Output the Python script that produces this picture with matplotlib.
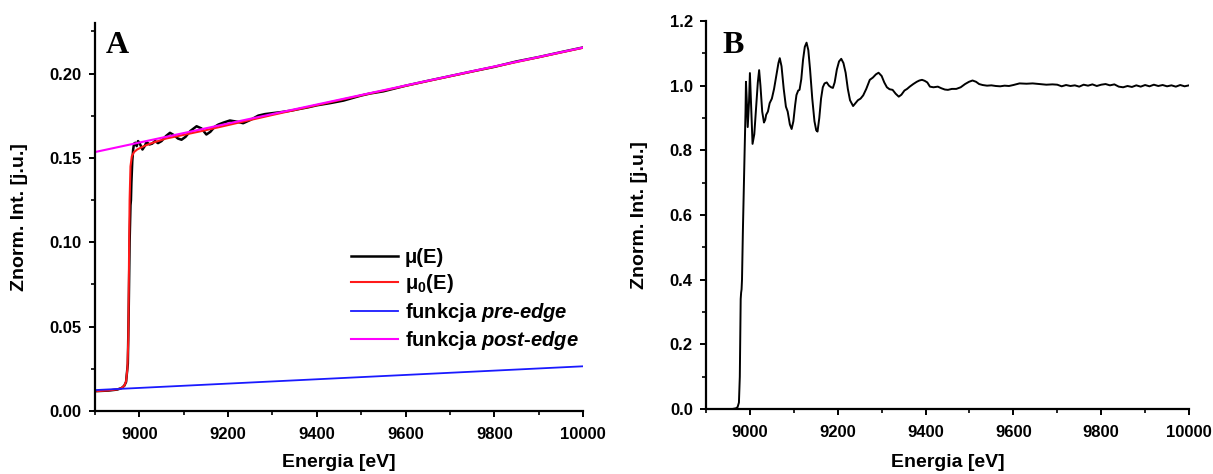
import matplotlib
matplotlib.use('Agg')
import matplotlib.pyplot as plt
from matplotlib.ticker import MultipleLocator, FormatStrFormatter

plt.rcParams['font.family'] = ['Liberation Sans', 'DejaVu Sans']
plt.rcParams['font.weight'] = 'bold'
plt.rcParams['mathtext.fontset'] = 'custom'
plt.rcParams['mathtext.rm'] = 'Liberation Sans:bold'
plt.rcParams['mathtext.bf'] = 'Liberation Sans:bold'
plt.rcParams['mathtext.it'] = 'Liberation Sans:italic:bold'
plt.rcParams['mathtext.bfit'] = 'Liberation Sans:italic:bold'

# --- panel A: raw absorption, background and edge lines ---
mu_E = [8905, 8930, 8950, 8960, 8966, 8970, 8974, 8976, 8978, 8980, 8981, 8982,
        8984, 8986, 8988, 8991, 8994, 8997, 9001, 9007, 9012, 9016, 9023, 9029,
        9035, 9042, 9050, 9060, 9069, 9078, 9087, 9095, 9104, 9115, 9129, 9140,
        9151, 9160, 9170, 9178, 9190, 9204, 9220, 9234, 9250, 9268, 9283, 9298,
        9320, 9343, 9360, 9380, 9400, 9430, 9460, 9500, 9520, 9550, 9600, 9650,
        9700, 9750, 9800, 9850, 9900, 9950, 10000]
mu_val = [0.0118, 0.0121, 0.0127, 0.0136, 0.0150, 0.0172, 0.0280, 0.0600, 0.1000,
          0.1220, 0.1250, 0.1350, 0.1480, 0.1550, 0.1585, 0.1590, 0.1570, 0.1600,
          0.1585, 0.1550, 0.1570, 0.1594, 0.1580, 0.1585, 0.1600, 0.1588, 0.1600,
          0.1630, 0.1649, 0.1635, 0.1615, 0.1608, 0.1625, 0.1660, 0.1688, 0.1675,
          0.1639, 0.1655, 0.1685, 0.1698, 0.1710, 0.1722, 0.1715, 0.1706, 0.1725,
          0.1751, 0.1760, 0.1765, 0.1772, 0.1781, 0.1790, 0.1800, 0.1812, 0.1825,
          0.1840, 0.1870, 0.1882, 0.1895, 0.1928, 0.1957, 0.1985, 0.2013, 0.2040,
          0.2072, 0.2098, 0.2127, 0.2155]

mu0_E = [8905, 8930, 8950, 8960, 8966, 8970, 8973, 8975, 8976, 8977, 8978, 8980,
         8983, 8988, 8995, 9010, 9030, 9060, 9100, 9150, 9200, 9300, 9500, 10000]
mu0_val = [0.0118, 0.0122, 0.0128, 0.0136, 0.0150, 0.0175, 0.0250, 0.0420, 0.0700,
           0.1000, 0.1250, 0.1450, 0.1510, 0.1535, 0.1550, 0.1570, 0.1590, 0.1615,
           0.1637, 0.1665, 0.1695, 0.1755, 0.1871, 0.2153]

pre_E = [8900, 10000]
pre_val = [0.0124, 0.0265]
post_E = [8900, 10000]
post_val = [0.1535, 0.2155]

# --- panel B: normalised spectrum ---
norm_E = [8900, 8960, 8968, 8972, 8975, 8977, 8979, 8980, 8981, 8982, 8984, 8986,
          8988, 8990, 8991, 8993, 8995, 8998, 9000, 9003, 9006, 9010, 9014, 9018,
          9021, 9024, 9028, 9032, 9035, 9037, 9041, 9045, 9050, 9055, 9060, 9065,
          9068, 9072, 9077, 9082, 9086, 9091, 9095, 9099, 9103, 9106, 9110, 9113,
          9117, 9121, 9125, 9129, 9133, 9137, 9142, 9147, 9151, 9154, 9158, 9162,
          9166, 9170, 9175, 9180, 9185, 9189, 9193, 9198, 9203, 9208, 9213, 9218,
          9223, 9228, 9235, 9240, 9246, 9252, 9258, 9265, 9273, 9280, 9287, 9293,
          9300, 9306, 9312, 9318, 9325, 9332, 9339, 9345, 9352, 9358, 9364, 9372,
          9380, 9386, 9392, 9398, 9404, 9410, 9418, 9428, 9436, 9444, 9451, 9460,
          9470, 9480, 9490, 9499, 9507, 9515, 9522, 9530, 9540, 9550, 9560, 9570,
          9580, 9590, 9600, 9614, 9630, 9644, 9660, 9675, 9689,
          9700, 9710, 9720, 9730, 9740, 9750, 9760, 9770, 9780, 9790, 9800, 9810,
          9820, 9830, 9840, 9850, 9860, 9870, 9880, 9890, 9900, 9910, 9920, 9930,
          9940, 9950, 9960, 9970, 9980, 9990, 10000]
norm_val = [0.000, 0.000, 0.002, 0.006, 0.020, 0.100, 0.340, 0.360, 0.370, 0.400,
            0.550, 0.680, 0.800, 0.920, 1.012, 0.950, 0.872, 0.950, 1.039, 0.930,
            0.820, 0.850, 0.930, 1.010, 1.048, 1.000, 0.920, 0.886, 0.895, 0.910,
            0.920, 0.946, 0.960, 0.990, 1.030, 1.070, 1.085, 1.060, 0.990, 0.935,
            0.920, 0.880, 0.866, 0.890, 0.940, 0.971, 0.985, 0.987, 1.020, 1.080,
            1.120, 1.133, 1.110, 1.050, 0.960, 0.890, 0.862, 0.858, 0.900, 0.960,
            0.995, 1.007, 1.010, 1.000, 0.995, 0.993, 1.010, 1.050, 1.075, 1.083,
            1.070, 1.040, 0.990, 0.955, 0.937, 0.945, 0.955, 0.960, 0.970, 0.990,
            1.018, 1.025, 1.035, 1.040, 1.030, 1.010, 0.995, 0.989, 0.987, 0.975,
            0.966, 0.972, 0.985, 0.990, 0.997, 1.005, 1.012, 1.016, 1.018, 1.015,
            1.010, 0.997, 0.995, 0.997, 0.992, 0.988, 0.987, 0.990, 0.990, 0.995,
            1.005, 1.012, 1.016, 1.012, 1.005, 1.002, 1.000, 1.001, 0.999, 0.998,
            1.000, 0.999, 1.002, 1.007, 1.006, 1.007, 1.005, 1.003, 1.004,
            1.003, 0.998, 1.002, 0.999, 1.001, 0.997, 1.003, 1.000, 1.004, 0.999,
            1.003, 1.005, 1.001, 1.004, 0.997, 0.995, 0.999, 0.996, 1.001, 0.997,
            1.002, 0.998, 1.003, 0.999, 1.002, 0.998, 1.001, 0.997, 1.002, 0.998,
            1.001]

W, H = 1213, 474
fig = plt.figure(figsize=(W / 100, H / 100), dpi=100)
axA = fig.add_axes([95 / W, 1 - 411 / H, 488 / W, 388 / H])
axB = fig.add_axes([706 / W, 1 - 409 / H, 483 / W, 388 / H])


def style(ax):
    for s in ['top', 'right']:
        ax.spines[s].set_visible(False)
    for s in ['left', 'bottom']:
        ax.spines[s].set_linewidth(1.6)
    ax.tick_params(which='major', direction='out', length=4.5, width=1.4,
                   labelsize=12)
    ax.tick_params(axis='y', which='major', pad=5)
    ax.tick_params(axis='x', which='major', pad=7)
    ax.tick_params(which='minor', direction='out', length=3, width=1.2)
    for lab in ax.get_xticklabels() + ax.get_yticklabels():
        lab.set_fontweight('bold')
    ax.set_xlim(8900, 10000)
    ax.xaxis.set_major_locator(MultipleLocator(200))
    ax.xaxis.set_minor_locator(MultipleLocator(100))
    ax.set_xlabel('Energia [eV]', fontsize=14, fontweight='bold')


axA.plot(mu_E, mu_val, color='black', lw=1.8, label='μ(E)')
axA.plot(mu0_E, mu0_val, color='#ff1a1a', lw=1.5, label='μ$_\\mathbf{0}$(E)')
axA.plot(pre_E, pre_val, color='#1a1aff', lw=1.3, label='funkcja $\\mathbfit{pre}$-$\\mathbfit{edge}$')
axA.plot(post_E, post_val, color='#ff00ff', lw=1.5, label='funkcja $\\mathbfit{post}$-$\\mathbfit{edge}$')
axA.set_ylim(0, 0.23)
axA.yaxis.set_major_locator(MultipleLocator(0.05))
axA.yaxis.set_minor_locator(MultipleLocator(0.025))
axA.yaxis.set_major_formatter(FormatStrFormatter('%.2f'))
style(axA)
axA.set_ylabel('Znorm. Int. [j.u.]', fontsize=14, fontweight='bold')
axA.yaxis.set_label_coords(-0.137, 0.5)
axA.xaxis.set_label_coords(0.5, -0.112)
axA.text(0.022, 0.922, 'A', transform=axA.transAxes, fontsize=23,
         fontweight='bold', family='Liberation Serif', va='baseline')
axA.legend(loc='upper left', bbox_to_anchor=(0.525, 0.42), frameon=False,
           fontsize=14.5, handlelength=2.3, handletextpad=0.35, labelspacing=0.27,
           borderpad=0, borderaxespad=0)

axB.plot(norm_E, norm_val, color='black', lw=1.4)
axB.set_ylim(0, 1.2)
axB.yaxis.set_major_locator(MultipleLocator(0.2))
axB.yaxis.set_minor_locator(MultipleLocator(0.1))
axB.yaxis.set_major_formatter(FormatStrFormatter('%.1f'))
style(axB)
axB.set_ylabel('Znorm. Int. [j.u.]', fontsize=14, fontweight='bold')
axB.yaxis.set_label_coords(-0.12, 0.5)
axB.xaxis.set_label_coords(0.5, -0.117)
axB.text(0.033, 0.917, 'B', transform=axB.transAxes, fontsize=23,
         fontweight='bold', family='Liberation Serif', va='baseline')

fig.savefig('out.png', dpi=100)
